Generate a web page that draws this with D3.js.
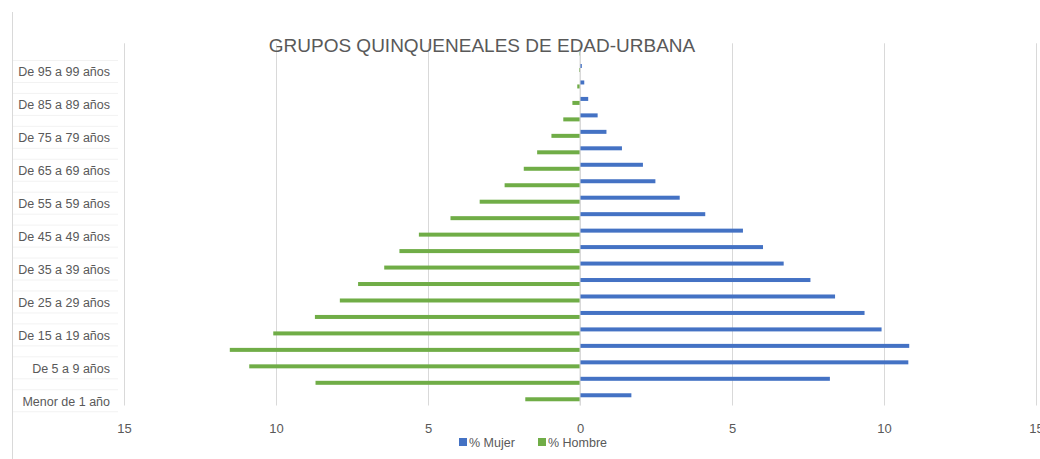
<!DOCTYPE html>
<html>
<head>
<meta charset="utf-8">
<script src="https://cdn.jsdelivr.net/npm/d3@7"></script>
<style>
    body { margin: 0; background: #fff; }
    svg { display: block; font-family: "Liberation Sans", Arial, sans-serif; }
    .tick text { fill: #595959; }
</style>
</head>
<body>
<div id="chart"></div>
<script>
var categories = ["Menor de 1 año", "De 1 a 4 años", "De 5 a 9 años", "De 10 a 14 años",
    "De 15 a 19 años", "De 20 a 24 años", "De 25 a 29 años", "De 30 a 34 años",
    "De 35 a 39 años", "De 40 a 44 años", "De 45 a 49 años", "De 50 a 54 años",
    "De 55 a 59 años", "De 60 a 64 años", "De 65 a 69 años", "De 70 a 74 años",
    "De 75 a 79 años", "De 80 a 84 años", "De 85 a 89 años", "De 90 a 94 años",
    "De 95 a 99 años", "De 100 años y más"];
var mujer = [1.69, 8.22, 10.80, 10.83, 9.92, 9.36, 8.39, 7.58, 6.70, 6.02, 5.36,
    4.12, 3.28, 2.48, 2.07, 1.38, 0.87, 0.58, 0.27, 0.14, 0.06, 0.03];
var hombre = [1.80, 8.70, 10.88, 11.52, 10.09, 8.72, 7.90, 7.30, 6.44, 5.94, 5.30,
    4.26, 3.30, 2.48, 1.85, 1.41, 0.94, 0.55, 0.25, 0.09, 0.03, 0.02];
var xTicks = [-15, -10, -5, 0, 5, 10, 15];
var seriesNames = ["% Mujer", "% Hombre"];
var seriesColors = ["#4472C4", "#70AD47"];
var title = "GRUPOS QUINQUENEALES DE EDAD-URBANA";

var width = 1040, height = 459;
var plot = {left: 124, right: 1036, top: 43.3, bottom: 405.5};

var svg = d3.select("#chart").append("svg")
    .attr("width", width)
    .attr("height", height);

// left border of the chart frame
svg.append("line")
    .attr("x1", 12.5).attr("x2", 12.5)
    .attr("y1", 12).attr("y2", height)
    .attr("stroke", "#d9d9d9");

var x = d3.scaleLinear()
    .domain([-15, 15])
    .range([plot.left, plot.right]);

var y = d3.scaleBand()
    .domain(categories)
    .range([plot.bottom, plot.top])
    .padding(0);

var sub = d3.scaleBand()
    .domain(seriesNames)
    .range([y.bandwidth() / 2 - 4, y.bandwidth() / 2 + 4]);

// vertical gridlines
svg.append("g")
    .attr("transform", "translate(0," + plot.top + ")")
    .call(d3.axisBottom(x).tickValues(xTicks).tickSize(plot.bottom - plot.top).tickFormat(""))
    .call(function (g) { g.select(".domain").remove(); })
    .selectAll("line")
    .attr("stroke", "#d9d9d9");

// x axis labels
svg.append("g")
    .attr("transform", "translate(0," + (plot.bottom + 15) + ")")
    .call(d3.axisBottom(x).tickValues(xTicks).tickSize(0)
        .tickFormat(function (d) { return Math.abs(d); }))
    .call(function (g) { g.select(".domain").remove(); })
    .selectAll("text")
    .attr("font-size", "13px")
    .attr("font-family", "Liberation Sans, Arial, sans-serif");

// category labels, every other one
var labeled = categories.filter(function (d, i) { return i % 2 === 0; });

var lab = svg.append("g").selectAll("g")
    .data(labeled)
    .enter().append("g")
    .attr("transform", function (d) {
        return "translate(0," + (y(d) + y.bandwidth() / 2 + 4) + ")";
    });

lab.append("line")
    .attr("x1", 13).attr("x2", 118)
    .attr("y1", -11.5).attr("y2", -11.5)
    .attr("stroke", "#f2f2f2");

lab.append("line")
    .attr("x1", 13).attr("x2", 118)
    .attr("y1", 10.5).attr("y2", 10.5)
    .attr("stroke", "#f2f2f2");

lab.append("text")
    .attr("x", 110)
    .attr("dy", "0.35em")
    .attr("text-anchor", "end")
    .attr("font-size", "12.5px")
    .attr("fill", "#595959")
    .text(function (d) { return d; });

// bars
var rows = categories.map(function (c, i) {
    return {cat: c, values: [mujer[i], -hombre[i]]};
});

var row = svg.append("g").selectAll("g")
    .data(rows)
    .enter().append("g")
    .attr("transform", function (d) { return "translate(0," + y(d.cat) + ")"; });

row.selectAll("rect")
    .data(function (d) {
        return d.values.map(function (v, j) { return {name: seriesNames[j], value: v, color: seriesColors[j]}; });
    })
    .enter().append("rect")
    .attr("x", function (d) { return Math.min(x(0), x(d.value)); })
    .attr("y", function (d) { return sub(d.name); })
    .attr("width", function (d) { return Math.abs(x(d.value) - x(0)); })
    .attr("height", sub.bandwidth())
    .attr("fill", function (d) { return d.color; });

// zero line
svg.append("line")
    .attr("x1", x(0)).attr("x2", x(0))
    .attr("y1", plot.top).attr("y2", plot.bottom)
    .attr("stroke", "#d9d9d9");

// title
svg.append("text")
    .attr("x", 482)
    .attr("y", 52)
    .attr("text-anchor", "middle")
    .attr("font-size", "19px")
    .attr("fill", "#595959")
    .text(title);

// legend
var legend = svg.append("g")
    .attr("transform", "translate(459,443)");

var item = legend.selectAll("g")
    .data(seriesNames)
    .enter().append("g")
    .attr("transform", function (d, i) { return "translate(" + (i * 79) + ",0)"; });

item.append("rect")
    .attr("x", 0).attr("y", -5)
    .attr("width", 8).attr("height", 8)
    .attr("fill", function (d, i) { return seriesColors[i]; });

item.append("text")
    .attr("x", 10)
    .attr("dy", "0.35em")
    .attr("font-size", "12.5px")
    .attr("fill", "#595959")
    .text(function (d) { return d; });
</script>
</body>
</html>
